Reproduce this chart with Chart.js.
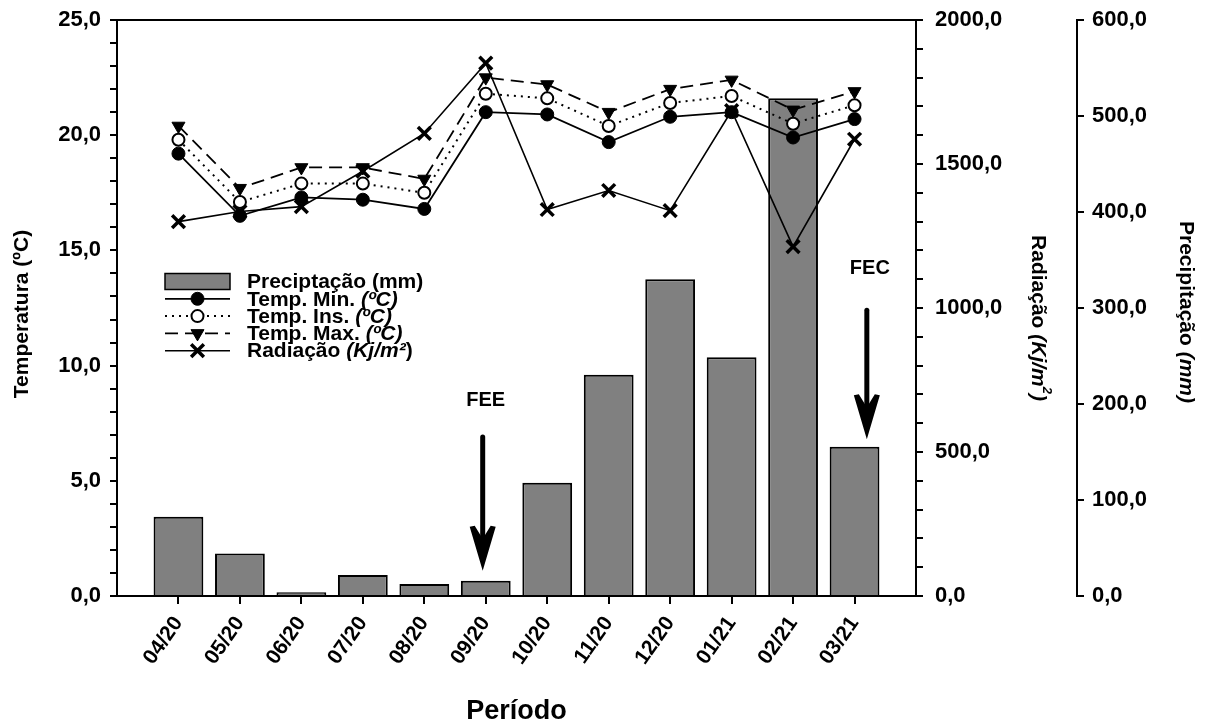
<!DOCTYPE html>
<html lang="pt-BR">
<head>
<meta charset="UTF-8">
<title>Temperatura, radiação e precipitação</title>
<script src="https://cdn.jsdelivr.net/npm/chart.js"></script>
<style>
  html, body { margin: 0; padding: 0; background: #fff; }
  canvas { display: block; }
</style>
</head>
<body>
<canvas id="climaChart" width="1208" height="726"></canvas>
<script>
// meses do período avaliado
const periodos = ['04/20', '05/20', '06/20', '07/20', '08/20', '09/20', '10/20', '11/20', '12/20', '01/21', '02/21', '03/21'];

// precipitação mensal (mm)
const precipitacao = [82.6, 44.4, 3.8, 21.9, 12.5, 16.0, 118.0, 230.5, 330.0, 248.6, 518.5, 155.5];

// temperaturas (ºC)
const tempMin = [19.2, 16.5, 17.3, 17.2, 16.8, 21.0, 20.9, 19.7, 20.8, 21.0, 19.9, 20.7];
const tempIns = [19.8, 17.1, 17.9, 17.9, 17.5, 21.8, 21.6, 20.4, 21.4, 21.7, 20.5, 21.3];
const tempMax = [20.4, 17.7, 18.6, 18.6, 18.1, 22.5, 22.2, 21.0, 22.0, 22.4, 21.1, 21.9];

// radiação (Kj/m²)
const radiacao = [1300, 1335, 1352, 1475, 1606, 1850, 1342, 1408, 1338, 1685, 1213, 1586];

// marcações de fase (posição em índice do mês / ºC)
const marcacoes = [
  { texto: 'FEE', x: 4.95, yTexto: 8.5, yTopo: 6.9, yPonta: 1.1 },
  { texto: 'FEC', x: 11.2, yTexto: 14.2, yTopo: 12.4, yPonta: 6.8 }
];

const FAMILIA = '"Liberation Sans", Arial, sans-serif';
const fmt = v => v.toFixed(1).replace('.', ',');
const pontos = arr => arr.map((v, i) => ({ x: i, y: v }));

Chart.defaults.font.family = FAMILIA;
Chart.defaults.font.weight = 'bold';
Chart.defaults.color = '#000';

function fonteSeg(s, tam) {
  const t = s.sup ? Math.round(tam * 0.62) : tam;
  return (s.it ? 'italic ' : '') + 'bold ' + t + 'px ' + FAMILIA;
}

function larguraSegs(ctx, segs, tam) {
  let w = 0;
  for (const s of segs) {
    ctx.font = fonteSeg(s, tam);
    w += ctx.measureText(s.t).width;
  }
  return w;
}

// escreve um texto com trechos em itálico / sobrescrito
function escreveSegs(ctx, segs, x, y, tam, centro) {
  let cx = centro ? x - larguraSegs(ctx, segs, tam) / 2 : x;
  ctx.textAlign = 'left';
  ctx.textBaseline = 'middle';
  ctx.fillStyle = '#000';
  for (const s of segs) {
    ctx.font = fonteSeg(s, tam);
    ctx.fillText(s.t, cx, s.sup ? y - tam * 0.4 : y);
    cx += ctx.measureText(s.t).width;
  }
}

function seta(ctx, x, yTopo, yPonta) {
  ctx.save();
  ctx.strokeStyle = '#000';
  ctx.fillStyle = '#000';
  ctx.lineWidth = 5;
  ctx.lineCap = 'round';
  ctx.beginPath();
  ctx.moveTo(x, yTopo);
  ctx.lineTo(x, yPonta - 12);
  ctx.stroke();
  ctx.beginPath();
  ctx.moveTo(x, yPonta);
  ctx.lineTo(x - 13, yPonta - 44);
  ctx.lineTo(x - 8, yPonta - 45);
  ctx.lineTo(x, yPonta - 32);
  ctx.lineTo(x + 8, yPonta - 45);
  ctx.lineTo(x + 13, yPonta - 44);
  ctx.closePath();
  ctx.fill();
  ctx.restore();
}

const legendaTextos = [
  [{ t: 'Preciptação (mm)' }],
  [{ t: 'Temp. Min. ' }, { t: '(ºC)', it: true }],
  [{ t: 'Temp. Ins. ' }, { t: '(ºC)', it: true }],
  [{ t: 'Temp. Max. ' }, { t: '(ºC)', it: true }],
  [{ t: 'Radiação ' }, { t: '(Kj/m²', it: true }, { t: ')' }]
];

const extras = {
  id: 'extras',
  afterDatasetsDraw(chart) {
    const { ctx, chartArea, scales } = chart;
    // linha superior do quadro
    ctx.save();
    ctx.strokeStyle = '#000';
    ctx.lineWidth = 2;
    ctx.beginPath();
    ctx.moveTo(chartArea.left - 1, chartArea.top);
    ctx.lineTo(chartArea.right + 1, chartArea.top);
    ctx.stroke();
    ctx.restore();

    for (const m of marcacoes) {
      const x = scales.x.getPixelForValue(m.x);
      ctx.save();
      escreveSegs(ctx, [{ t: m.texto }], x + 3, scales.yT.getPixelForValue(m.yTexto), 20, true);
      ctx.restore();
      seta(ctx, x, scales.yT.getPixelForValue(m.yTopo), scales.yT.getPixelForValue(m.yPonta));
    }
  },
  afterDraw(chart) {
    const { ctx, chartArea, scales } = chart;
    const ds = chart.data.datasets;

    // legenda
    const x0 = 165, x1 = 230, xTexto = 247, y0 = 281.5, passo = 17.3;
    legendaTextos.forEach((segs, i) => {
      const y = y0 + i * passo;
      const d = ds[i];
      ctx.save();
      if (d.type === 'bar') {
        ctx.fillStyle = d.backgroundColor;
        ctx.strokeStyle = d.borderColor;
        ctx.lineWidth = 1.5;
        ctx.fillRect(x0, y - 8, x1 - x0, 16);
        ctx.strokeRect(x0, y - 8, x1 - x0, 16);
      } else {
        ctx.strokeStyle = d.borderColor;
        ctx.lineWidth = d.borderWidth;
        ctx.setLineDash(d.borderDash || []);
        ctx.beginPath();
        ctx.moveTo(x0, y);
        ctx.lineTo(x1, y);
        ctx.stroke();
        ctx.setLineDash([]);
        ctx.fillStyle = d.pointBackgroundColor;
        ctx.strokeStyle = d.pointBorderColor;
        ctx.lineWidth = d.pointBorderWidth;
        Chart.helpers.drawPoint(ctx, {
          pointStyle: d.pointStyle,
          rotation: d.pointRotation || 0,
          radius: d.pointRadius,
          borderWidth: d.pointBorderWidth
        }, (x0 + x1) / 2, y);
      }
      escreveSegs(ctx, segs, xTexto, y + 1, 21, false);
      ctx.restore();
    });

    // títulos dos eixos
    const titulo = (segs, x, y, ang, tam) => {
      ctx.save();
      ctx.translate(x, y);
      ctx.rotate(ang);
      escreveSegs(ctx, segs, 0, 0, tam, true);
      ctx.restore();
    };
    const meioY = (chartArea.top + chartArea.bottom) / 2;
    titulo([{ t: 'Temperatura (ºC)' }], 22, meioY + 6, -Math.PI / 2, 21);
    titulo([{ t: 'Radiação ' }, { t: '(Kj/m', it: true }, { t: '2', it: true, sup: true }, { t: ')', it: true }],
      scales.yR.right - 39, meioY + 10, Math.PI / 2, 21);
    titulo([{ t: 'Precipitação ' }, { t: '(mm)', it: true }], scales.yP.right - 22, meioY + 4, Math.PI / 2, 21);
    titulo([{ t: 'Período' }], (chartArea.left + chartArea.right) / 2, 712, 0, 27);
  }
};

// largura fixa do eixo vertical, sem folga extra acima/abaixo dos rótulos
const larguraFixa = w => s => { s.width = w; s.paddingTop = 0; s.paddingBottom = 0; };

const eixoGrade = { drawOnChartArea: false, offset: false, color: '#000', lineWidth: 2, tickLength: 7 };
const eixoBorda = { color: '#000', width: 2 };
const fonteTick = { size: 22, weight: 'bold' };

new Chart(document.getElementById('climaChart'), {
  type: 'bar',
  data: {
    datasets: [
      {
        type: 'bar',
        label: 'Preciptação (mm)',
        data: pontos(precipitacao),
        yAxisID: 'yP',
        backgroundColor: '#808080',
        borderColor: '#000',
        borderWidth: 2,
        barPercentage: 0.81,
        categoryPercentage: 1,
        order: 10
      },
      {
        type: 'line',
        label: 'Temp. Min. (ºC)',
        data: pontos(tempMin),
        yAxisID: 'yT',
        borderColor: '#000',
        borderWidth: 1.8,
        pointStyle: 'circle',
        pointRadius: 6.5,
        pointBackgroundColor: '#000',
        pointBorderColor: '#000',
        pointBorderWidth: 1,
        order: 3
      },
      {
        type: 'line',
        label: 'Temp. Ins. (ºC)',
        data: pontos(tempIns),
        yAxisID: 'yT',
        borderColor: '#000',
        borderWidth: 2,
        borderDash: [2, 5],
        pointStyle: 'circle',
        pointRadius: 6,
        pointBackgroundColor: '#fff',
        pointBorderColor: '#000',
        pointBorderWidth: 2,
        order: 2
      },
      {
        type: 'line',
        label: 'Temp. Max. (ºC)',
        data: pontos(tempMax),
        yAxisID: 'yT',
        borderColor: '#000',
        borderWidth: 1.8,
        borderDash: [13, 7],
        pointStyle: 'triangle',
        pointRotation: 180,
        pointRadius: 7.5,
        pointBackgroundColor: '#000',
        pointBorderColor: '#000',
        pointBorderWidth: 1,
        order: 1
      },
      {
        type: 'line',
        label: 'Radiação (Kj/m²)',
        data: pontos(radiacao),
        yAxisID: 'yR',
        borderColor: '#000',
        borderWidth: 1.6,
        pointStyle: 'crossRot',
        pointRadius: 9,
        pointBackgroundColor: '#000',
        pointBorderColor: '#000',
        pointBorderWidth: 3.5,
        order: 4
      }
    ]
  },
  options: {
    responsive: false,
    animation: false,
    devicePixelRatio: 1,
    layout: { padding: { top: 20, right: 0, bottom: 0, left: 0 } },
    elements: { line: { tension: 0 } },
    plugins: { legend: { display: false }, tooltip: { enabled: false } },
    scales: {
      x: {
        type: 'linear',
        min: -1,
        max: 12,
        offset: false,
        afterBuildTicks: s => { s.ticks = s.ticks.filter(t => t.value >= 0 && t.value <= 11); },
        afterFit: s => { s.height = 130; s.paddingLeft = 0; s.paddingRight = 0; },
        ticks: {
          stepSize: 1,
          autoSkip: false,
          minRotation: 55,
          maxRotation: 55,
          padding: 8,
          font: { size: 21, weight: 'bold' },
          callback: v => periodos[v] || ''
        },
        grid: Object.assign({}, eixoGrade, { tickLength: 8 }),
        border: eixoBorda
      },
      yT: {
        type: 'linear',
        position: 'left',
        min: 0,
        max: 25,
        afterFit: larguraFixa(117),
        ticks: {
          stepSize: 1,
          autoSkip: false,
          padding: 9,
          font: fonteTick,
          callback: v => (v % 5 === 0 ? fmt(v) : '')
        },
        grid: eixoGrade,
        border: eixoBorda
      },
      yR: {
        type: 'linear',
        position: 'right',
        weight: 1,
        min: 0,
        max: 2000,
        afterFit: larguraFixa(161),
        ticks: {
          stepSize: 100,
          autoSkip: false,
          padding: 12,
          font: fonteTick,
          callback: v => (v % 500 === 0 ? fmt(v) : '')
        },
        grid: eixoGrade,
        border: eixoBorda
      },
      yP: {
        type: 'linear',
        position: 'right',
        weight: 2,
        min: 0,
        max: 600,
        afterFit: larguraFixa(131),
        ticks: {
          stepSize: 100,
          autoSkip: false,
          padding: 8,
          font: fonteTick,
          callback: v => fmt(v)
        },
        grid: eixoGrade,
        border: eixoBorda
      }
    }
  },
  plugins: [extras]
});
</script>
</body>
</html>
